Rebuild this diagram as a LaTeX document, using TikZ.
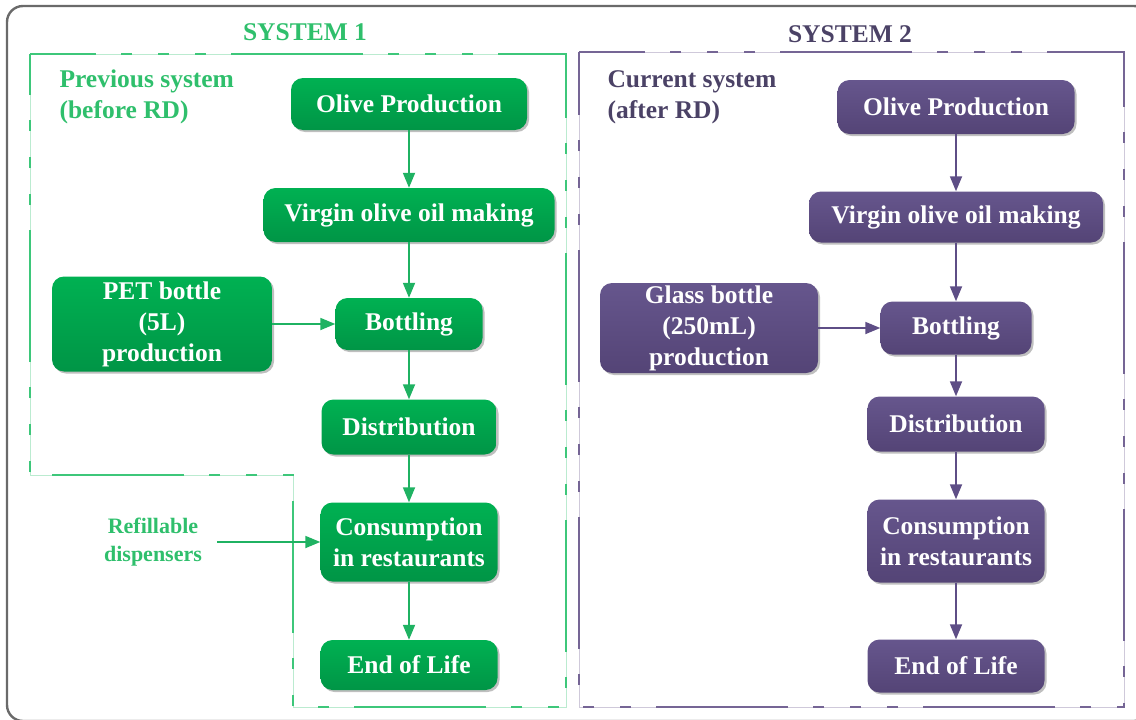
\documentclass[tikz,border=0pt]{standalone}
\usepackage{fontspec}
\setmainfont{Liberation Serif}
\usetikzlibrary{arrows.meta,shadows}
\definecolor{gruenoben}{HTML}{00B152}
\definecolor{gruenunten}{HTML}{009546}
\definecolor{gruenlinie}{HTML}{3DC77A}
\definecolor{gruenpfeil}{HTML}{1FB262}
\definecolor{gruentext}{HTML}{2FBF6C}
\definecolor{lilaoben}{HTML}{66568D}
\definecolor{lilaunten}{HTML}{544476}
\definecolor{lilalinie}{HTML}{756595}
\definecolor{lilapfeil}{HTML}{5E4E86}
\definecolor{lilatext}{HTML}{4B4266}
\definecolor{rahmen}{HTML}{6A6A6A}
\begin{document}
\begin{tikzpicture}[x=1pt, y=-1pt,
  box/.style={rounded corners=12pt, align=center, text=white, inner sep=0pt,
    font=\fontsize{25.5}{31}\selectfont\bfseries,
    drop shadow={shadow xshift=2pt, shadow yshift=-2pt, opacity=0.25, fill=black}},
  box1/.style={box, top color=gruenoben, bottom color=gruenunten},
  box2/.style={box, top color=lilaoben, bottom color=lilaunten},
  pfeil/.style={-{Triangle[length=15pt,width=12pt]}, line width=1.8pt},
  grenze/.style={line width=2.5pt, dash pattern=on 132pt off 25pt on 11pt off 26pt on 11pt off 26pt on 11pt off 25pt, dash phase=66pt},
  titel/.style={font=\fontsize{25.5}{31}\selectfont\bfseries, align=left}]
\clip (0,0) rectangle (1136,720);
% Rahmen
\draw[line width=2.4pt, rahmen, rounded corners=16pt] (7,6) rectangle (1150,721);

% System 1
\begin{scope}[local bounding box=S1]
	% Grenze zeichnen
	\draw[grenze, gruenlinie, preaction={draw, solid, gruenlinie!35}] (30,54) -- (566,54) -- (566,707) -- (293,707) -- (293,475) -- (30,475) -- cycle;
	\node[titel, text=gruentext] (T1) at (305,32) {SYSTEM 1};
	\node[titel, text=gruentext, anchor=west] (L1) at (56,97) {Previous system\\(before RD)};
	% Kaesten
	\node[box1, minimum width=236pt, minimum height=52pt] (OP1) at (409,104) {Olive Production};
	\node[box1, minimum width=291pt, minimum height=54pt] (VO1) at (409,215) {Virgin olive oil making};
	\node[box1, minimum width=147pt, minimum height=52pt] (BO1) at (409,324) {Bottling};
	\node[box1, minimum width=220pt, minimum height=95pt] (PET) at (162,324) {PET bottle\\(5L)\\production};
	\node[box1, minimum width=175pt, minimum height=55pt] (DI1) at (409,427) {Distribution};
	\node[box1, minimum width=177pt, minimum height=79pt] (KO1) at (409,542) {Consumption\\in restaurants};
	\node[box1, minimum width=177pt, minimum height=50pt] (EL1) at (409,665) {End of Life};
	\node[text=gruentext, font=\fontsize{22}{28}\selectfont\bfseries, align=center] (REF) at (153,542) {Refillable\\dispensers};
	% Pfeile
	\draw[pfeil, gruenpfeil] (OP1) -- (VO1);
	\draw[pfeil, gruenpfeil] (VO1) -- (BO1);
	\draw[pfeil, gruenpfeil] (PET) -- (BO1);
	\draw[pfeil, gruenpfeil] (BO1) -- (DI1);
	\draw[pfeil, gruenpfeil] (DI1) -- (KO1);
	\draw[pfeil, gruenpfeil] (KO1) -- (EL1);
	\draw[pfeil, gruenpfeil, shorten <=12pt] (REF) -- (KO1);
\end{scope}

% System 2
\begin{scope}[local bounding box=S2]
	% Grenze zeichnen
	\draw[grenze, lilalinie, preaction={draw, solid, lilalinie!35}] (579,52) -- (1124,52) -- (1124,707) -- (579,707) -- cycle;
	\node[titel, text=lilatext] (T2) at (850,34) {SYSTEM 2};
	\node[titel, text=lilatext, anchor=west] (L2) at (604,97) {Current system\\(after RD)};
	% Kaesten
	\node[box2, minimum width=237pt, minimum height=54pt] (OP2) at (956,107) {Olive Production};
	\node[box2, minimum width=294pt, minimum height=51pt] (VO2) at (956,217) {Virgin olive oil making};
	\node[box2, minimum width=151pt, minimum height=53pt] (BO2) at (956,328) {Bottling};
	\node[box2, minimum width=218pt, minimum height=90pt] (GLAS) at (709,328) {Glass bottle\\(250mL)\\production};
	\node[box2, minimum width=177pt, minimum height=55pt] (DI2) at (956,424) {Distribution};
	\node[box2, minimum width=177pt, minimum height=83pt] (KO2) at (956,541) {Consumption\\in restaurants};
	\node[box2, minimum width=177pt, minimum height=53pt] (EL2) at (956,666) {End of Life};
	% Pfeile
	\draw[pfeil, lilapfeil] (OP2) -- (VO2);
	\draw[pfeil, lilapfeil] (VO2) -- (BO2);
	\draw[pfeil, lilapfeil] (GLAS) -- (BO2);
	\draw[pfeil, lilapfeil] (BO2) -- (DI2);
	\draw[pfeil, lilapfeil] (DI2) -- (KO2);
	\draw[pfeil, lilapfeil] (KO2) -- (EL2);
\end{scope}
\end{tikzpicture}
\end{document}
